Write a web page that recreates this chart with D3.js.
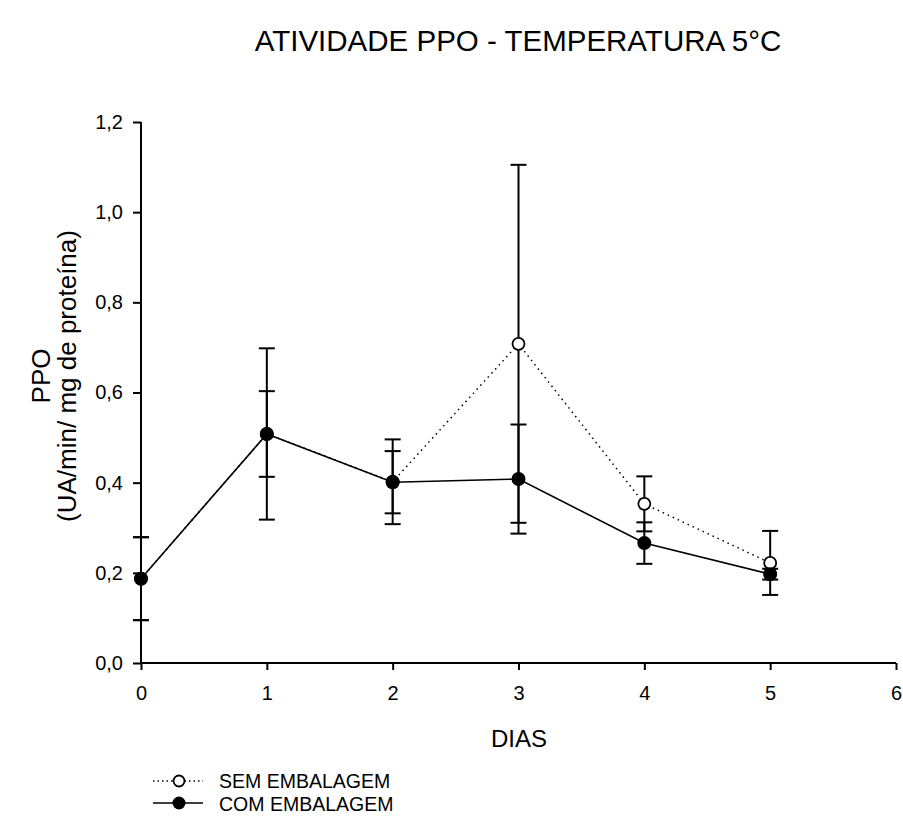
<!DOCTYPE html>
<html>
<head>
<meta charset="utf-8">
<script src="https://cdn.jsdelivr.net/npm/d3@7"></script>
<style>
  body { margin: 0; background: #fff; }
  svg text { font-family: "Liberation Sans", Arial, sans-serif; fill: #000; }
</style>
</head>
<body>
<div id="chart"></div>
<script>
// data
const days = [0, 1, 2, 3, 4, 5];
const semMean = [0.187, 0.508, 0.402, 0.708, 0.353, 0.222];
const semErr = [0.092, 0.190, 0.094, 0.397, 0.061, 0.071];
const comMean = [0.187, 0.508, 0.401, 0.408, 0.266, 0.197];
const comErr = [0.092, 0.095, 0.069, 0.121, 0.046, 0.012];
const xTicks = [0, 1, 2, 3, 4, 5, 6];
const yTicks = [0, 0.2, 0.4, 0.6, 0.8, 1.0, 1.2];

const width = 903, height = 820;

const svg = d3.select('#chart')
  .append('svg')
  .attr('width', width)
  .attr('height', height);

const x = d3.scaleLinear().domain([0, 6]).range([141, 896]);
const y = d3.scaleLinear().domain([0, 1.2]).range([663, 122]);

const fmt = (d) => d3.format('.1f')(d).replace('.', ',');

// y axis
const yAxis = svg.append('g')
  .attr('transform', 'translate(141,0)')
  .call(d3.axisLeft(y).tickValues(yTicks).tickSize(8).tickPadding(10).tickFormat(fmt));
yAxis.select('.domain').attr('stroke-width', 2).attr('d', `M0,${y(1.2)}V${y(0)}`);
yAxis.selectAll('.tick line').attr('stroke-width', 2);
yAxis.selectAll('.tick text').attr('font-size', 20);

// x axis
const xAxis = svg.append('g')
  .attr('transform', 'translate(0,663)')
  .call(d3.axisBottom(x).tickValues(xTicks).tickSize(7).tickPadding(16).tickFormat(d3.format('d')));
xAxis.select('.domain').attr('stroke-width', 2).attr('d', `M${x(0)},0H${x(6)}`);
xAxis.selectAll('.tick line').attr('stroke-width', 2);
xAxis.selectAll('.tick text').attr('font-size', 20);

// title and labels
svg.append('text')
  .attr('x', 518).attr('y', 51)
  .attr('text-anchor', 'middle')
  .attr('font-size', 29.5)
  .text('ATIVIDADE PPO - TEMPERATURA 5°C');

svg.append('text')
  .attr('x', 519).attr('y', 747)
  .attr('text-anchor', 'middle')
  .attr('font-size', 24)
  .text('DIAS');

svg.append('text')
  .attr('transform', 'translate(50,376) rotate(-90)')
  .attr('text-anchor', 'middle')
  .attr('font-size', 26)
  .text('PPO');

svg.append('text')
  .attr('transform', 'translate(76,376) rotate(-90)')
  .attr('text-anchor', 'middle')
  .attr('font-size', 26)
  .text('(UA/min/ mg de proteína)');

const sem = days.map((d, i) => ({ x: d, y: semMean[i], e: semErr[i] }));
const com = days.map((d, i) => ({ x: d, y: comMean[i], e: comErr[i] }));

const line = d3.line().x((d) => x(d.x)).y((d) => y(d.y));

// lines
svg.append('path')
  .datum(sem)
  .attr('fill', 'none')
  .attr('stroke', '#000')
  .attr('stroke-width', 1.5)
  .attr('stroke-dasharray', '1.5,4')
  .attr('d', line);

svg.append('path')
  .datum(com)
  .attr('fill', 'none')
  .attr('stroke', '#000')
  .attr('stroke-width', 1.6)
  .attr('d', line);

// error bars
const drawErr = (data) => {
  const g = svg.append('g').attr('stroke', '#000').attr('stroke-width', 2);
  data.forEach((d) => {
    const cx = x(d.x), top = y(d.y + d.e), bot = y(d.y - d.e);
    g.append('line').attr('x1', cx).attr('x2', cx).attr('y1', top).attr('y2', bot);
    g.append('line').attr('x1', cx - 8).attr('x2', cx + 8).attr('y1', top).attr('y2', top);
    g.append('line').attr('x1', cx - 8).attr('x2', cx + 8).attr('y1', bot).attr('y2', bot);
  });
};
drawErr(sem);
drawErr(com);

// markers
svg.append('g')
  .selectAll('circle')
  .data(sem)
  .join('circle')
  .attr('cx', (d) => x(d.x))
  .attr('cy', (d) => y(d.y))
  .attr('r', 6)
  .attr('fill', '#fff')
  .attr('stroke', '#000')
  .attr('stroke-width', 1.8);

svg.append('g')
  .selectAll('circle')
  .data(com)
  .join('circle')
  .attr('cx', (d) => x(d.x))
  .attr('cy', (d) => y(d.y))
  .attr('r', 7)
  .attr('fill', '#000');

// legend
const legend = svg.append('g');
legend.append('line')
  .attr('x1', 153).attr('x2', 203).attr('y1', 781).attr('y2', 781)
  .attr('stroke', '#000').attr('stroke-width', 1.5).attr('stroke-dasharray', '1.5,3');
legend.append('circle')
  .attr('cx', 179).attr('cy', 781).attr('r', 5.5)
  .attr('fill', '#fff').attr('stroke', '#000').attr('stroke-width', 1.8);
legend.append('text')
  .attr('x', 219).attr('y', 788).attr('font-size', 19.5)
  .text('SEM EMBALAGEM');

legend.append('line')
  .attr('x1', 153).attr('x2', 203).attr('y1', 803).attr('y2', 803)
  .attr('stroke', '#000').attr('stroke-width', 1.6);
legend.append('circle')
  .attr('cx', 179).attr('cy', 803).attr('r', 6.5)
  .attr('fill', '#000');
legend.append('text')
  .attr('x', 219).attr('y', 811).attr('font-size', 19.5)
  .text('COM EMBALAGEM');
</script>
</body>
</html>
